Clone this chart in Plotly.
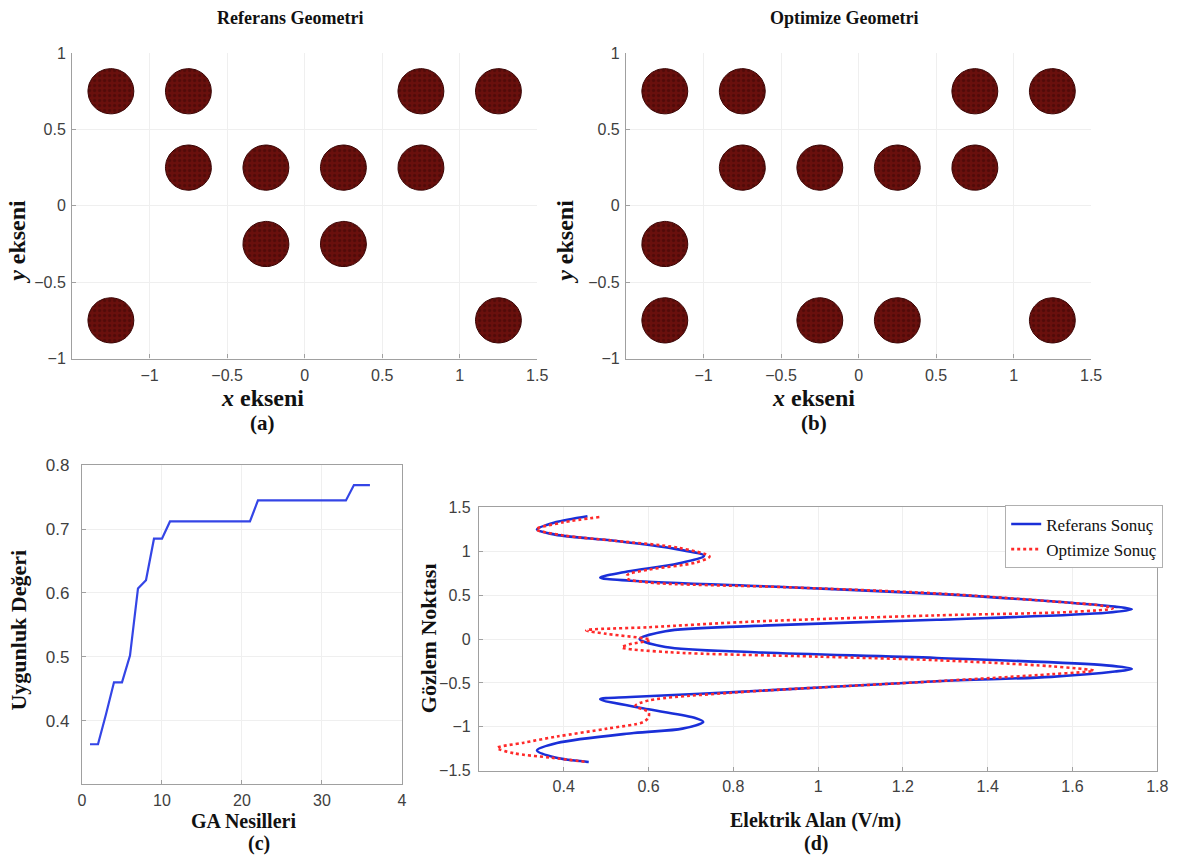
import numpy as np
import plotly.graph_objects as go

W, H = 1189, 863

# ---------------- data ----------------
# (a) Reference geometry: cylinder centres
ref_cx = [-1.25, -0.75, 0.75, 1.25, -0.75, -0.25, 0.25, 0.75, -0.25, 0.25, -1.25, 1.25]
ref_cy = [0.75, 0.75, 0.75, 0.75, 0.25, 0.25, 0.25, 0.25, -0.25, -0.25, -0.75, -0.75]
# (b) Optimised geometry: cylinder centres
opt_cx = [-1.25, -0.75, 0.75, 1.25, -0.75, -0.25, 0.25, 0.75, -1.25, -1.25, -0.25, 0.25, 1.25]
opt_cy = [0.75, 0.75, 0.75, 0.75, 0.25, 0.25, 0.25, 0.25, -0.25, -0.75, -0.75, -0.75, -0.75]
cyl_radius = 0.148

# (c) GA fitness per generation
ga_gen = list(range(1, 37))
ga_fit = [0.363, 0.363, 0.41, 0.46, 0.46, 0.502, 0.607, 0.62, 0.685, 0.685,
          0.712, 0.712, 0.712, 0.712, 0.712, 0.712, 0.712, 0.712, 0.712, 0.712,
          0.712, 0.745, 0.745, 0.745, 0.745, 0.745, 0.745, 0.745, 0.745, 0.745,
          0.745, 0.745, 0.745, 0.769, 0.769, 0.769]

# (d) Electric field vs observation point
ref_E = [0.456, 0.38, 0.337, 0.38, 0.52, 0.66, 0.731, 0.67, 0.55, 0.486, 0.557, 0.93,
         1.28, 1.55, 1.70, 1.74, 1.68, 1.28, 0.85, 0.64, 0.579, 0.64, 0.85, 1.28,
         1.68, 1.74, 1.70, 1.55, 1.28, 0.78, 0.557, 0.486, 0.60, 0.71, 0.729, 0.68,
         0.565, 0.384, 0.337, 0.38, 0.459]
ref_y = [1.40, 1.33, 1.25, 1.19, 1.12, 1.03, 0.95, 0.86, 0.77, 0.70, 0.665, 0.59,
         0.515, 0.43, 0.37, 0.34, 0.30, 0.22, 0.15, 0.09, 0.0, -0.09, -0.15, -0.215,
         -0.30, -0.34, -0.37, -0.43, -0.48, -0.61, -0.66, -0.685, -0.80, -0.90, -0.944, -1.02,
         -1.07, -1.185, -1.27, -1.35, -1.40]
opt_E = [0.484, 0.40, 0.335, 0.40, 0.52, 0.67, 0.744, 0.71, 0.60, 0.55, 0.55, 0.60,
         0.93, 1.28, 1.55, 1.67, 1.695, 1.60, 1.28, 0.85, 0.60, 0.453, 0.50, 0.604,
         0.555, 0.537, 0.65, 1.0, 1.278, 1.55, 1.65, 1.55, 1.28, 0.80, 0.60, 0.569,
         0.60, 0.60, 0.588, 0.502, 0.384, 0.306, 0.243, 0.282, 0.369, 0.455]
opt_y = [1.39, 1.33, 1.25, 1.18, 1.12, 1.04, 0.94, 0.87, 0.79, 0.73, 0.69, 0.645,
         0.59, 0.52, 0.43, 0.38, 0.35, 0.31, 0.27, 0.20, 0.135, 0.10, 0.06, -0.01,
         -0.06, -0.094, -0.15, -0.20, -0.24, -0.31, -0.36, -0.40, -0.48, -0.61, -0.70, -0.76,
         -0.833, -0.89, -0.944, -1.02, -1.11, -1.18, -1.24, -1.30, -1.35, -1.40]

geo_xticks = [-1, -0.5, 0, 0.5, 1, 1.5]
geo_yticks = [-1, -0.5, 0, 0.5, 1]
ga_xticks = [0, 10, 20, 30, 40]
ga_xticklabels = ["0", "10", "20", "30", "4"]
ga_yticks = [0.4, 0.5, 0.6, 0.7, 0.8]
e_xticks = [0.4, 0.6, 0.8, 1.0, 1.2, 1.4, 1.6, 1.8]
e_yticks = [-1.5, -1, -0.5, 0, 0.5, 1, 1.5]

# ---------------- helpers ----------------
def px(x):
    return x / W

def py(y):
    return 1 - y / H

SERIF = "Liberation Serif, Times New Roman, serif"
SANS = "Liberation Sans, Arial, sans-serif"
AXCOL = "#a0a0a0"
GRIDCOL = "#efefef"

def tickfont(size):
    return dict(family=SANS, size=size, color="#404040")

fig = go.Figure()

theta = np.linspace(0, 2 * np.pi, 60)

def add_cylinders(cx, cy, xa, ya):
    for x0, y0 in zip(cx, cy):
        fig.add_trace(go.Scatter(
            x=x0 + cyl_radius * np.cos(theta), y=y0 + cyl_radius * np.sin(theta),
            mode="lines", fill="toself",
            fillcolor="#650f0c",
            fillpattern=dict(shape=".", bgcolor="#6a100d", fgcolor="#3a0505",
                             size=5, solidity=0.35),
            line=dict(color="#3a0505", width=1),
            xaxis=xa, yaxis=ya, showlegend=False, hoverinfo="skip"))

add_cylinders(ref_cx, ref_cy, "x", "y")
add_cylinders(opt_cx, opt_cy, "x2", "y2")

fig.add_trace(go.Scatter(x=ga_gen, y=ga_fit, mode="lines",
                         line=dict(color="#3445e6", width=2.2),
                         xaxis="x3", yaxis="y3", showlegend=False))

fig.add_trace(go.Scatter(x=ref_E, y=ref_y, mode="lines", name="Referans Sonuç",
                         line=dict(color="#1a2fd8", width=2.6, shape="spline", smoothing=0.9),
                         xaxis="x4", yaxis="y4"))
fig.add_trace(go.Scatter(x=opt_E, y=opt_y, mode="lines", name="Optimize Sonuç",
                         line=dict(color="#ff2a2a", width=2.6, dash="dot", shape="spline", smoothing=0.9),
                         xaxis="x4", yaxis="y4"))

def common(fs, standoff=2):
    return dict(showgrid=True, gridcolor=GRIDCOL, gridwidth=1, zeroline=False,
                ticks="inside", ticklen=4, tickcolor=AXCOL, tickfont=tickfont(fs),
                showline=True, linecolor=AXCOL, linewidth=1.2,
                ticklabelstandoff=standoff)

AB_TOP, AB_BOT = 45, 357

fig.update_layout(
    width=W, height=H, margin=dict(l=0, r=0, t=0, b=0),
    paper_bgcolor="white", plot_bgcolor="white",
    xaxis=dict(domain=[px(69), px(540)], range=[-1.5, 1.5], tickvals=geo_xticks,
               anchor="y", mirror=False, **common(16)),
    yaxis=dict(domain=[py(AB_BOT), py(AB_TOP)], range=[-1, 1], tickvals=geo_yticks,
               anchor="x", mirror=False, **common(16)),
    xaxis2=dict(domain=[px(630), px(1101)], range=[-1.5, 1.5], tickvals=geo_xticks,
                anchor="y2", mirror=False, **common(16)),
    yaxis2=dict(domain=[py(AB_BOT), py(AB_TOP)], range=[-1, 1], tickvals=geo_yticks,
                anchor="x2", mirror=False, **common(16)),
    xaxis3=dict(domain=[px(79), px(403)], range=[0, 40], tickvals=ga_xticks,
                ticktext=ga_xticklabels, anchor="y3", mirror=True, **common(16, 1)),
    yaxis3=dict(domain=[py(792), py(466)], range=[0.3, 0.8], tickvals=ga_yticks,
                anchor="x3", mirror=True, **common(17, 8)),
    xaxis4=dict(domain=[px(481), px(1168)], range=[0.2, 1.8], tickvals=e_xticks,
                anchor="y4", mirror=True, **common(16, 1)),
    yaxis4=dict(domain=[py(778), py(509)], range=[-1.5, 1.5], tickvals=e_yticks,
                anchor="x4", mirror=True, **common(16, 4)),
    legend=dict(x=px(1174), y=py(507), xanchor="right", yanchor="top",
                bgcolor="white", bordercolor="#b0b0b0", borderwidth=1,
                font=dict(family=SERIF, size=17, color="#111"),
                tracegroupgap=0, itemwidth=30),
)

def ann(text, x, y, size, angle=0):
    fig.add_annotation(text=text, x=px(x), y=py(y), xref="paper", yref="paper",
                       showarrow=False, textangle=angle, borderpad=0,
                       font=dict(family=SERIF, size=size, color="#111"),
                       xanchor="center", yanchor="middle")

ann("<b>Referans Geometri</b>", 290, 9, 18)
ann("<b>Optimize Geometri</b>", 851, 9, 18)
ann("<b><i>x</i> ekseni</b>", 262, 397, 24)
ann("<b>(a)</b>", 262, 423, 21)
ann("<b><i>x</i> ekseni</b>", 820, 397, 24)
ann("<b>(b)</b>", 820, 423, 21)
ann("<b><i>y</i> ekseni</b>", 13, 238, 24, -90)
ann("<b><i>y</i> ekseni</b>", 568, 238, 24, -90)
ann("<b>Uygunluk Değeri</b>", 15, 634, 22, -90)
ann("<b>GA Nesilleri</b>", 243, 829, 20)
ann("<b>(c)</b>", 258, 852, 20)
ann("<b>Gözlem Noktası</b>", 430, 643, 22, -90)
ann("<b>Elektrik Alan (V/m)</b>", 822, 829, 20)
ann("<b>(d)</b>", 822, 852, 20)

fig.write_html("out.html",
               config={"displayModeBar": False},
               post_script="document.body.style.margin='0';document.body.style.overflow='hidden';")
